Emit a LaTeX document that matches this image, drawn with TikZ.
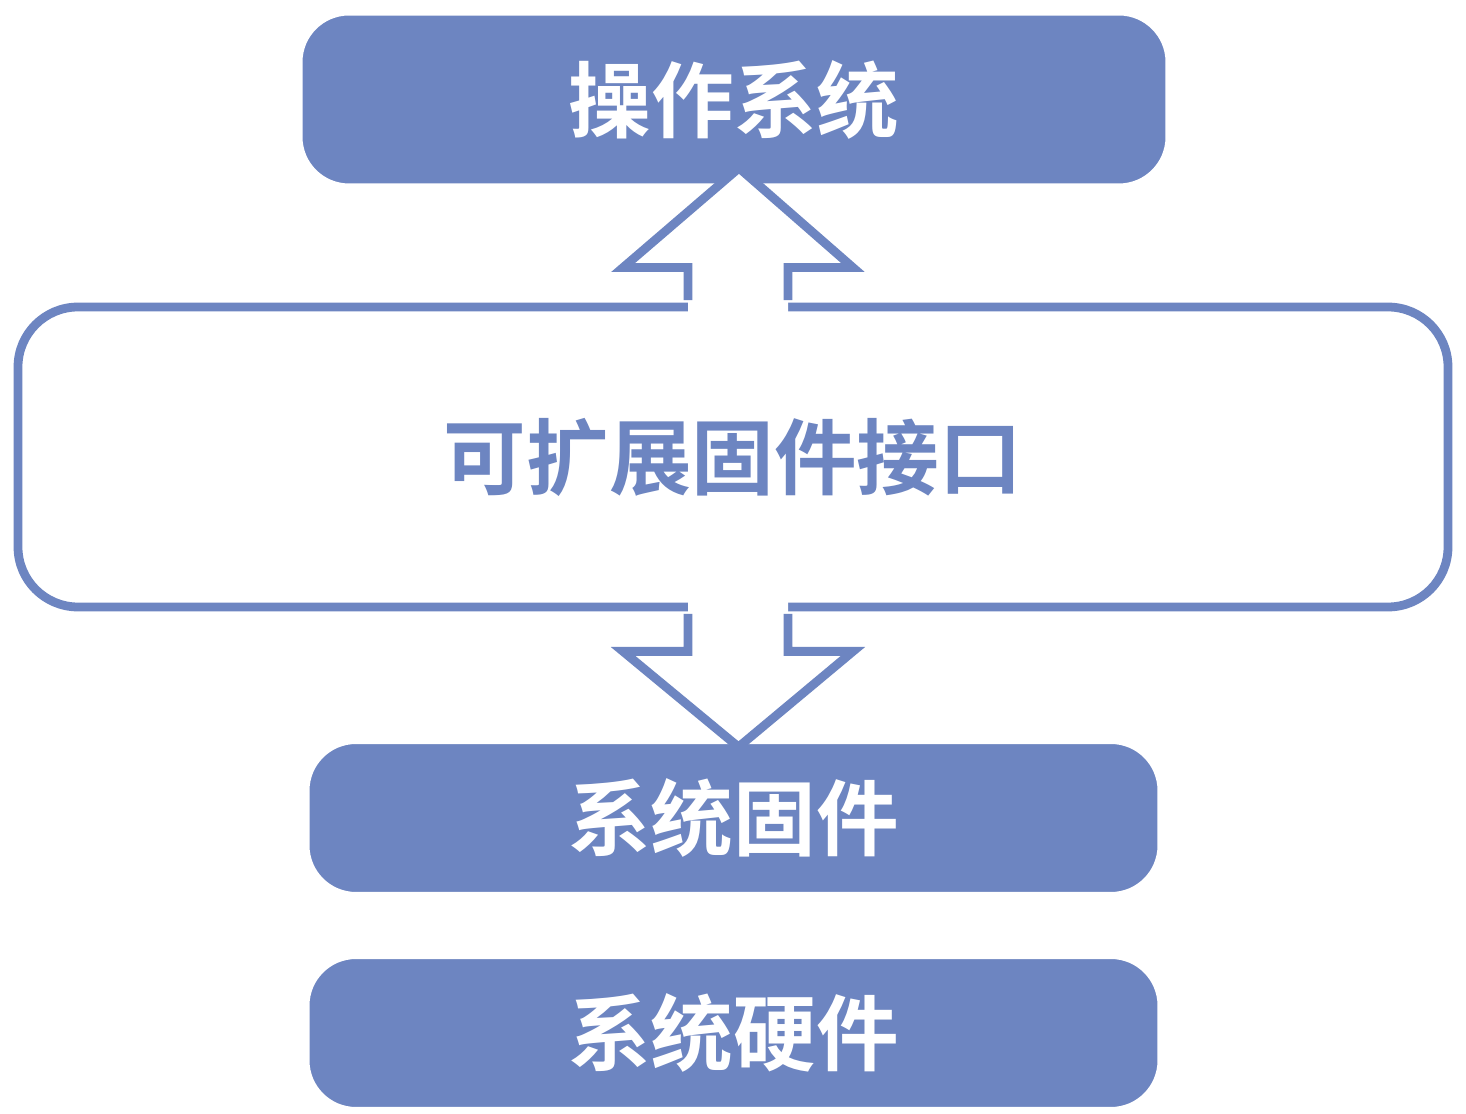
\documentclass[tikz,border=0pt]{standalone}
\usepackage{fontspec}
\newfontfamily\cjk{Noto Sans CJK SC}[BoldFont={Noto Sans CJK SC Bold}]
\usetikzlibrary{positioning,calc}
\definecolor{layerblue}{HTML}{6D85C1}
\tikzset{
    layer/.style={
        rectangle,
        rounded corners=1cm,
        draw=white,
        line width=4pt,
        fill=layerblue,
        text=white,
        font=\cjk\bfseries\fontsize{47}{50}\selectfont,
    },
    iface/.style={
        rectangle,
        rounded corners=1.2cm,
        draw=layerblue,
        line width=5pt,
        fill=white,
        text=layerblue,
        font=\cjk\bfseries\fontsize{47}{50}\selectfont,
    },
    bigarrow/.style={
        draw=layerblue,
        line width=5pt,
        line join=miter,
    },
}
\begin{document}
\begin{tikzpicture}
    \useasboundingbox[fill=white] (0,0) rectangle (29.32,22.28);
    \node [layer,minimum width=17.4cm,minimum height=3.5cm] (os) at (14.68,20.29) {操作系统};
    \node [iface,minimum width=28.6cm,minimum height=6cm] (ext) at (14.66,13.14) {可扩展固件接口};
    \node [layer,minimum width=17.1cm,minimum height=3.1cm] (fw) at (14.67,5.92) {系统固件};
    \node [layer,minimum width=17.1cm,minimum height=3.1cm] (hw) at (14.67,1.62) {系统硬件};

    % up arrow
    \fill[white] ($(ext.north)+(-0.9,-0.2)$) -- ++(0,0.9) -- ++(-1.3,0) -- ($(os.south)+(0.1,0.45)$)
        -- ($(ext.north)+(2.4,0.7)$) -- ++(-1.3,0) -- ++(0,-0.9) -- cycle;
    \draw[bigarrow] ($(ext.north)+(-0.9,0.05)$) -- ++(0,0.65) -- ++(-1.3,0) -- ($(os.south)+(0.1,0.45)$)
        -- ($(ext.north)+(2.4,0.7)$) -- ++(-1.3,0) -- ++(0,-0.65);
    % down arrow
    \fill[white] ($(ext.south)+(-0.9,0.2)$) -- ++(0,-1) -- ++(-1.3,0) -- ($(fw.north)+(0.1,-0.2)$)
        -- ($(ext.south)+(2.4,-0.8)$) -- ++(-1.3,0) -- ++(0,1) -- cycle;
    \draw[bigarrow] ($(ext.south)+(-0.9,-0.05)$) -- ++(0,-0.75) -- ++(-1.3,0) -- ($(fw.north)+(0.1,-0.2)$)
        -- ($(ext.south)+(2.4,-0.8)$) -- ++(-1.3,0) -- ++(0,0.75);
\end{tikzpicture}
\end{document}
